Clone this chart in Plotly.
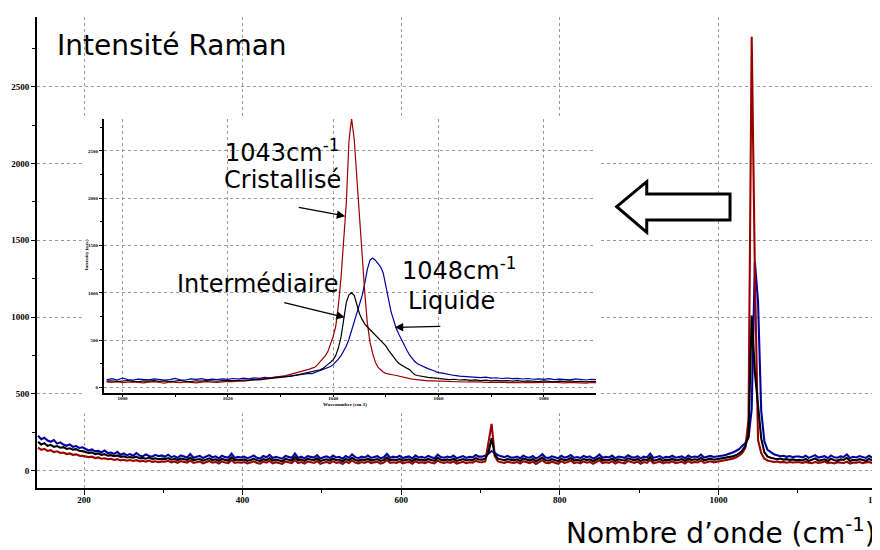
import numpy as np
import plotly.graph_objects as go

# --- donnees : spectre complet (pas de 4 cm-1) ---
main_x = list(range(142, 1203, 4))

main_bleu = [
    228, 205, 214, 196, 188, 199, 176, 184, 170, 162, 171, 155, 160, 148, 152,
    143, 131, 138, 126, 129, 120, 131, 114, 118, 109, 122, 104, 112, 101, 108, 97, 115, 99, 93, 106, 96, 91, 103, 94, 99,
    90, 104, 88, 95, 83, 99, 92, 86, 108, 84, 91, 96, 82, 89, 101, 87, 93, 80, 97, 88, 85, 110, 83, 90, 86,
    92, 81, 88, 99, 84, 79, 95, 87, 103, 82, 90, 86, 78, 96, 89, 84, 112, 83, 91, 80, 94, 88, 85, 101, 79,
    87, 93, 82, 98, 86, 90, 77, 95, 84, 106, 88, 81, 92, 85, 99, 83, 89, 94, 80, 87, 109, 84, 91, 86, 97,
    82, 88, 93, 79, 100, 85, 90, 83, 96, 87, 81, 104, 89, 84, 92, 86, 98, 80, 88, 95, 83, 90, 87, 102, 91,
    91, 98, 110, 128, 112, 101, 93, 88, 96, 86,
    85, 92, 81, 99, 87, 84, 95, 79, 90, 107, 86, 83, 93, 88, 80, 97, 85, 91, 102, 84, 89, 82, 96, 87, 93,
    79, 88, 105, 84, 90, 86, 98, 81, 92, 87, 83, 100, 89, 85, 94, 80, 91, 86, 111, 83, 88, 95, 82, 90, 87,
    97, 84, 89, 93, 81, 99, 86, 92, 88, 104, 85, 91, 96, 89, 94,
    95, 99, 104, 110, 118, 128, 140, 160, 180, 215, 400, 1360, 1100, 390, 190, 135, 118, 106, 100, 94, 97, 90, 95, 88, 92,
    92, 86, 97, 83, 90, 101, 85, 88, 94, 81, 99, 87, 84, 93, 89, 106, 82, 90, 86, 95, 88, 83, 97, 85, 91, 87,
]

main_noir = [
    188, 170, 179, 162, 168, 155, 160, 149, 153, 141, 146, 137, 140, 130, 127,
    122, 115, 119, 108, 112, 103, 107, 98, 101, 94, 99, 90, 93, 86, 89, 84, 91, 80, 83, 78, 85, 76, 80, 74, 78,
    75, 82, 71, 77, 68, 79, 73, 70, 84, 67, 72, 76, 65, 71, 80, 69, 74, 64, 77, 70, 66, 86, 68, 72, 69,
    73, 64, 70, 78, 67, 62, 75, 69, 81, 65, 72, 68, 61, 77, 70, 66, 88, 67, 73, 63, 76, 70, 68, 80, 62,
    69, 74, 65, 79, 68, 72, 60, 76, 67, 84, 70, 64, 73, 68, 78, 66, 71, 75, 63, 69, 86, 67, 72, 68, 77,
    65, 70, 74, 62, 79, 68, 72, 66, 76, 69, 64, 83, 71, 67, 73, 68, 78, 63, 70, 75, 66, 72, 69, 81, 73,
    72, 78, 118, 211, 104, 78, 73, 68, 75, 70,
    67, 74, 63, 79, 70, 66, 76, 61, 72, 85, 68, 65, 75, 70, 62, 78, 67, 73, 82, 66, 71, 64, 77, 69, 74,
    61, 70, 84, 66, 72, 68, 79, 63, 74, 69, 65, 80, 71, 67, 76, 62, 73, 68, 88, 65, 70, 77, 64, 72, 69,
    78, 66, 71, 75, 63, 80, 68, 74, 70, 83, 67, 73, 78, 71, 75,
    76, 79, 82, 87, 93, 100, 112, 130, 160, 230, 1010, 640, 440, 210, 120, 92, 84, 78, 74, 79, 72, 75, 70, 73, 68,
    70, 66, 76, 63, 71, 80, 65, 69, 74, 62, 78, 68, 65, 73, 70, 84, 63, 71, 67, 75, 69, 64, 77, 66, 72, 68,
]

main_rouge = [
    150, 136, 142, 128, 133, 121, 126, 115, 118, 108, 112, 103, 106, 98, 96,
    94, 88, 91, 82, 86, 78, 81, 74, 77, 70, 75, 67, 71, 65, 69, 63, 68, 60, 64, 58, 66, 57, 61, 55, 60,
    58, 64, 54, 60, 51, 62, 56, 53, 66, 50, 55, 59, 48, 54, 63, 52, 57, 47, 60, 53, 49, 68, 51, 55, 52,
    56, 47, 53, 61, 50, 45, 58, 52, 64, 48, 55, 51, 44, 60, 53, 49, 70, 50, 56, 46, 59, 53, 51, 63, 45,
    52, 57, 48, 62, 51, 55, 43, 59, 50, 67, 53, 47, 56, 51, 61, 49, 54, 58, 46, 52, 69, 50, 55, 51, 60,
    48, 53, 57, 45, 62, 51, 55, 49, 59, 52, 47, 66, 54, 50, 56, 51, 61, 46, 53, 58, 49, 55, 52, 64, 56,
    55, 60, 170, 305, 95, 60, 55, 51, 58, 53,
    50, 57, 46, 62, 53, 49, 59, 44, 55, 68, 51, 48, 58, 53, 45, 61, 50, 56, 65, 49, 54, 47, 60, 52, 57,
    44, 53, 67, 49, 55, 51, 62, 46, 57, 52, 48, 63, 54, 50, 59, 45, 56, 51, 71, 48, 53, 60, 47, 55, 52,
    61, 49, 54, 58, 46, 63, 51, 57, 53, 66, 50, 56, 61, 54, 58,
    58, 62, 66, 71, 77, 85, 97, 115, 150, 330, 2826, 1300, 200, 115, 78, 66, 60, 56, 59, 54, 57, 52, 56, 53, 55,
    55, 50, 57, 52, 48, 56, 51, 54, 59, 49, 53, 47, 55, 52, 50, 58, 46, 53, 51, 56, 49, 54, 57, 48, 52, 50,
]

# --- donnees : zoom autour de 1043 cm-1 ---
zoom_x = list(range(997, 1036)) + list(np.arange(1035.5, 1058.25, 0.5)) + list(range(1059, 1091))

zoom_bleu = [
    82, 95, 80, 101, 84, 78, 90, 86, 81, 93, 88, 79, 85, 97, 83, 80, 91, 86, 94, 82,
    89, 84, 92, 87, 96, 90, 99, 93, 102, 97, 108, 104, 112, 118, 115, 124, 130, 138, 148,
    150, 148, 158, 170, 182, 190, 198, 206, 222, 242, 270, 300, 338, 385, 440, 510, 600, 690, 780, 865,
    970, 1100, 1250, 1345, 1367, 1345, 1310, 1275, 1210, 1060, 910, 800, 710, 620, 560, 500, 448, 395, 345, 305,
    275, 252, 238, 225, 212, 200,
    180, 158, 150, 135, 128, 122, 118, 112, 115, 106, 110, 100, 104, 96, 101, 94, 98, 91, 96, 88,
    93, 86, 95, 84, 90, 87, 82, 91, 85, 80, 88, 83,
]

zoom_noir = [
    68, 72, 64, 70, 75, 66, 62, 71, 68, 74, 65, 70, 63, 69, 77, 66, 64, 72, 68, 75,
    70, 67, 73, 71, 76, 74, 80, 78, 84, 82, 90, 95, 101, 108, 115, 122, 131, 142, 155,
    160, 165, 170, 178, 188, 200, 218, 245, 268, 295, 340, 420, 535, 720, 900, 980, 1000, 975, 870, 780,
    720, 670, 640, 612, 590, 560, 530, 505, 475, 440, 395, 355, 320, 285, 255, 235, 220, 205, 190, 160,
    135, 128, 122, 118, 112, 108,
    102, 97, 92, 84, 88, 80, 84, 77, 81, 74, 78, 72, 76, 70, 74, 68, 73, 66, 71, 68,
    64, 70, 66, 62, 69, 65, 71, 63, 67, 61, 66, 64,
]

zoom_rouge = [
    60, 56, 63, 52, 58, 61, 55, 50, 57, 62, 54, 48, 59, 56, 52, 60, 55, 49, 57, 63,
    58, 54, 61, 66, 62, 70, 68, 75, 79, 85, 88, 96, 104, 115, 126, 140, 155, 172, 188,
    195, 205, 215, 240, 270, 305, 335, 380, 450, 540, 650, 870, 1165, 1550, 1950, 2600, 2840, 2620, 2200, 1780,
    1380, 1000, 675, 480, 360, 270, 215, 185, 165, 150, 142, 138, 133, 128, 120, 112, 106, 99, 95, 90,
    86, 83, 80, 76, 74, 72,
    70, 68, 64, 66, 61, 63, 59, 62, 57, 60, 56, 59, 55, 58, 53, 57, 54, 51, 56, 52,
    55, 50, 54, 57, 52, 49, 55, 51, 53, 48, 54, 52,
]

assert len(main_bleu) == len(main_noir) == len(main_rouge) == len(main_x)
assert len(zoom_bleu) == len(zoom_noir) == len(zoom_rouge) == len(zoom_x)

ROUGE = "#9b0000"
BLEU = "#0000a0"
NOIR = "#000000"
GRILLE = "#9a9a9a"
POLICE = "DejaVu Sans, sans-serif"
TICKS = dict(family="Liberation Serif, serif", size=9, color="black", weight="bold")
TICKS_PETIT = dict(family="Liberation Serif, serif", size=5, color="black", weight="bold")

fig = go.Figure()

# spectre complet
for y, c in [(main_bleu, BLEU), (main_rouge, ROUGE), (main_noir, NOIR)]:
    fig.add_trace(go.Scatter(x=main_x, y=y, mode="lines",
                             line=dict(color=c, width=2.1), showlegend=False))

# cadre blanc derriere l'encart
fig.add_trace(go.Scatter(x=[], y=[], xaxis="x2", yaxis="y2", showlegend=False))

# encart
for y, c in [(zoom_bleu, BLEU), (zoom_rouge, ROUGE), (zoom_noir, NOIR)]:
    fig.add_trace(go.Scatter(x=zoom_x, y=y, mode="lines", xaxis="x3", yaxis="y3",
                             line=dict(color=c, width=1.2), showlegend=False))

# la page a une marge de 8 px : figure de 872x542 pour tomber dans la fenetre
fig.update_layout(
    width=872, height=542,
    margin=dict(l=29, r=0, t=9, b=62),
    paper_bgcolor="white", plot_bgcolor="white",
    showlegend=False,
    xaxis=dict(range=[140.7, 1203.8], dtick=200, ticks="outside", ticklen=5, tickcolor="black",
               tickfont=TICKS, showline=True, linecolor="black", linewidth=2, automargin=False,
               ticklabelstandoff=-3, ticklabeloverflow="allow",
               showgrid=True, gridcolor=GRILLE, griddash="dot", gridwidth=1, zeroline=False,
               minor=dict(dtick=100, ticks="outside", ticklen=3, tickcolor="black", showgrid=False)),
    yaxis=dict(range=[-113, 2954], dtick=500, ticks="outside", ticklen=4, tickcolor="black",
               tickfont=TICKS, showline=True, linecolor="black", linewidth=2, automargin=False,
               showgrid=True, gridcolor=GRILLE, griddash="dot", gridwidth=1, zeroline=False,
               minor=dict(dtick=250, ticks="outside", ticklen=3, tickcolor="black", showgrid=False)),
    xaxis2=dict(domain=[0.053, 0.6667], anchor="y2", visible=False, showgrid=False, automargin=False),
    yaxis2=dict(domain=[0.159, 0.790], anchor="x2", visible=False, showgrid=False, automargin=False),
    xaxis3=dict(domain=[0.0795, 0.6631], anchor="y3", range=[996.5, 1089.9], dtick=20,
                ticks="outside", ticklen=2, tickcolor="black", tickfont=TICKS_PETIT,
                ticklabelstandoff=-3,
                showline=True, linecolor="black", linewidth=2, automargin=False,
                showgrid=True, gridcolor=GRILLE, griddash="dot", gridwidth=1, zeroline=False,
                minor=dict(dtick=10, ticks="outside", ticklen=2, tickcolor="black", showgrid=False)),
    yaxis3=dict(domain=[0.2017, 0.7834], anchor="x3", range=[-57, 2835], dtick=500,
                ticks="outside", ticklen=3, tickcolor="black", tickfont=TICKS_PETIT,
                showline=True, linecolor="black", linewidth=2, automargin=False,
                showgrid=True, gridcolor=GRILLE, griddash="dot", gridwidth=1, zeroline=False,
                minor=dict(dtick=250, ticks="outside", ticklen=2, tickcolor="black", showgrid=False)),
)

grand = dict(family=POLICE, size=28, color="black")
moyen = dict(family=POLICE, size=24, color="black")

textes = [
    ("Intensité Raman", 0.0215, 0.939, "left", grand),
    ("Nombre d’onde (cm<sup>-1</sup>)", 0.6255, -0.0934, "left", grand),
    ("1043cm<sup>-1</sup>", 0.2206, 0.7155, "left", moyen),
    ("Cristallisé", 0.2200, 0.654, "left", moyen),
    ("Intermédiaire", 0.1637, 0.4331, "left", moyen),
    ("1048cm<sup>-1</sup>", 0.4306, 0.465, "left", moyen),
    ("Liquide", 0.4377, 0.397, "left", moyen),
]
for t, x, y, xa, f in textes:
    fig.add_annotation(text=t, x=x, y=y, xref="paper", yref="paper", xanchor=xa,
                       yanchor="middle", showarrow=False, font=f)

# titres de l'encart
fig.add_annotation(text="Wavenumber (cm-1)", x=0.3654, y=0.168, xref="paper", yref="paper",
                   showarrow=False, font=TICKS_PETIT)
fig.add_annotation(text="Intensity (a.u.)", x=0.0534, y=0.4947, xref="paper", yref="paper",
                   showarrow=False, textangle=-90, font=TICKS_PETIT)

# fleches vers les pics
for x, y, ax, ay in [(1042.3, 1810, -48, -9), (1042.2, 742, -62, -15), (1051.7, 636, 47, -1)]:
    fig.add_annotation(x=x, y=y, xref="x3", yref="y3", ax=ax, ay=ay, text="",
                       showarrow=True, arrowhead=2, arrowsize=1.3, arrowwidth=1.3,
                       arrowcolor="black")

# grosse fleche creuse
fig.add_shape(type="path", xref="paper", yref="paper", layer="above",
              path="M 0.6877 0.5972 L 0.7233 0.6503 L 0.7233 0.6242 L 0.8221 0.6242 "
                   "L 0.8221 0.5690 L 0.7233 0.5690 L 0.7233 0.5429 Z",
              line=dict(color="black", width=3), fillcolor="white")

fig.write_html("out.html", config={"displayModeBar": False})
